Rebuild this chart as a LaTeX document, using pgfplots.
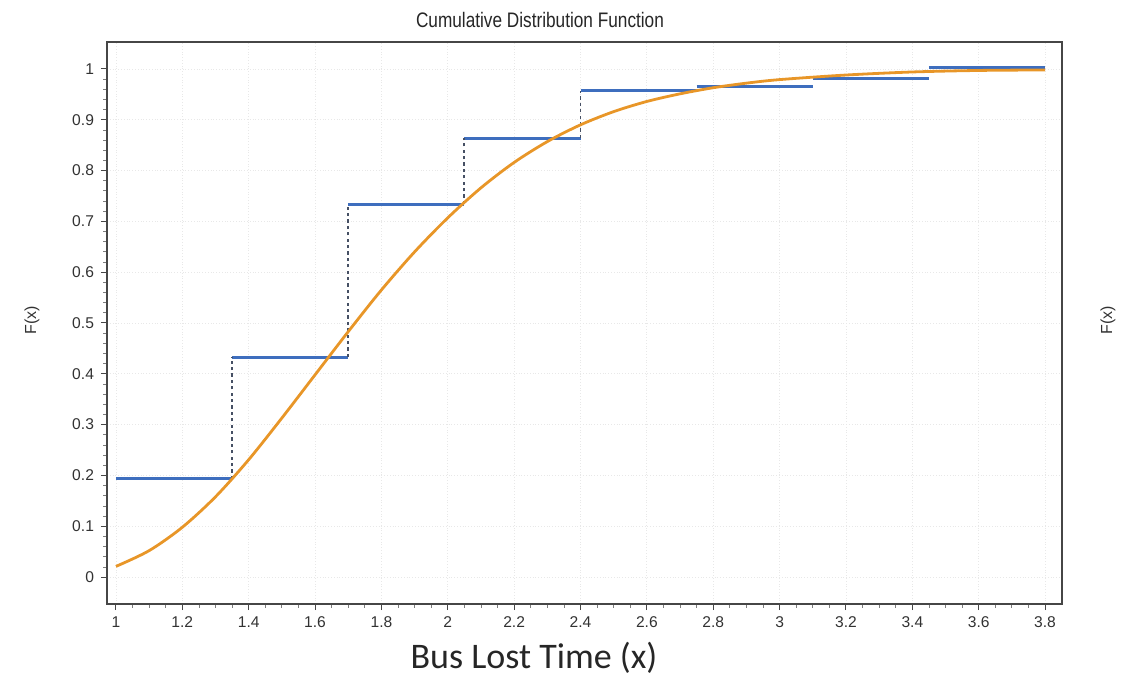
\documentclass[border=0pt]{standalone}
\usepackage{pgfplots}
\pgfplotsset{compat=1.18}
\usepackage{fontspec}
\setmainfont{Liberation Sans}
\newfontfamily\carlito{Carlito}
\definecolor{stepblue}{RGB}{62,110,190}
\definecolor{cdforange}{RGB}{232,150,40}
\definecolor{framegray}{RGB}{70,70,70}
\definecolor{ticktext}{RGB}{50,50,50}
\definecolor{dotgray}{RGB}{70,80,100}
\begin{document}
\begin{tikzpicture}[x=1pt,y=1pt]
\useasboundingbox (0,0) rectangle (568.5,346);
\begin{axis}[
  at={(53.5pt,44pt)}, anchor=south west,
  scale only axis, width=477.5pt, height=281pt,
  xmin=0.973, xmax=3.851, ymin=-0.053, ymax=1.053,
  xtick={1,1.2,...,3.81}, ytick={0,0.1,...,1.01},
  minor x tick num=3, minor y tick num=4,
  xticklabels={1,1.2,1.4,1.6,1.8,2,2.2,2.4,2.6,2.8,3,3.2,3.4,3.6,3.8},
  yticklabels={0,0.1,0.2,0.3,0.4,0.5,0.6,0.7,0.8,0.9,1},
  tick align=outside, major tick length=3pt, minor tick length=1.8pt,
  tick style={framegray, line width=0.5pt},
  minor tick style={framegray!70, line width=0.4pt},
  xtick pos=bottom, ytick pos=left,
  axis line style={framegray, line width=1.1pt},
  grid=major, major grid style={gray!18, line width=0.4pt, densely dotted},
  ticklabel style={font=\fontsize{7.8}{9}\selectfont, text=ticktext},
  /pgf/number format/assume math mode=true,
  clip=false,
]
% empirical step function (horizontal parts)
\addplot[stepblue, line width=1.5pt, jump mark left] coordinates {
  (1.00,0.193) (1.35,0.433) (1.70,0.734) (2.05,0.864) (2.40,0.957)
  (2.75,0.965) (3.10,0.982) (3.45,1.002) (3.80,1.002)};
% dotted jumps
\addplot[dotgray, line width=0.9pt, dash pattern=on 1.6pt off 1.6pt] coordinates {(1.35,0.193) (1.35,0.433)};
\addplot[dotgray, line width=0.9pt, dash pattern=on 1.6pt off 1.6pt] coordinates {(1.70,0.433) (1.70,0.734)};
\addplot[dotgray, line width=0.9pt, dash pattern=on 1.6pt off 1.6pt] coordinates {(2.05,0.734) (2.05,0.864)};
\addplot[dotgray, line width=0.9pt, dash pattern=on 1.6pt off 1.6pt] coordinates {(2.40,0.864) (2.40,0.957)};
% fitted CDF
\addplot[cdforange, line width=1.4pt, smooth] coordinates {
  (1.0,0.021) (1.1,0.052) (1.2,0.098) (1.3,0.158) (1.4,0.231) (1.5,0.313)
  (1.6,0.398) (1.7,0.483) (1.8,0.565) (1.9,0.640) (2.0,0.707) (2.1,0.766)
  (2.2,0.816) (2.3,0.857) (2.4,0.890) (2.5,0.916) (2.6,0.936) (2.7,0.951)
  (2.8,0.963) (2.9,0.972) (3.0,0.979) (3.2,0.988) (3.4,0.994) (3.6,0.997)
  (3.8,0.998)};
\end{axis}
\node[font=\fontsize{10.5}{12}\selectfont, text=black!85] at (270,336) {\scalebox{0.82}[1]{Cumulative Distribution Function}};
\node[font=\carlito\fontsize{18}{20}\selectfont, text=black!85] at (267,17) {Bus Lost Time (x)};
\node[rotate=90, font=\fontsize{8}{9}\selectfont, text=ticktext] at (16,186) {F(x)};
\node[rotate=90, font=\fontsize{8}{9}\selectfont, text=ticktext] at (554,186) {F(x)};
\end{tikzpicture}
\end{document}
